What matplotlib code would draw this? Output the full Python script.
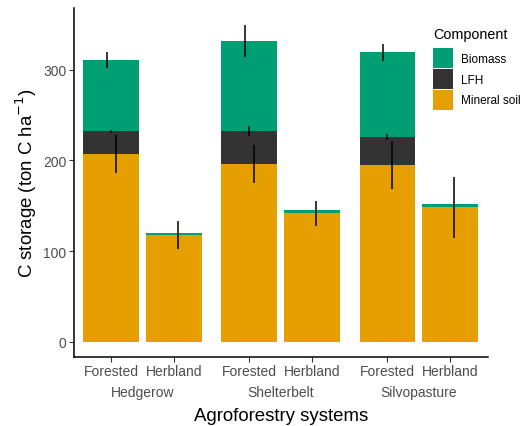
import matplotlib.pyplot as plt
import numpy as np

plt.rcParams['font.family'] = ['Liberation Sans', 'DejaVu Sans']

# systems and land uses, in plotting order
systems = ["Hedgerow", "Shelterbelt", "Silvopasture"]
land_uses = ["Forested", "Herbland"]

# stacked components per bar (Hedgerow F, Hedgerow H, Shelterbelt F, ...)
mineral = [207, 117.6, 196, 141.6, 194.8, 148.5]
lfh = [25, 0, 36.6, 0, 31, 0]
biomass = [78.6, 2.4, 99, 3.6, 93.3, 3.0]

# error bar half-widths
mineral_err = [21, 15, 21, 13.8, 26.6, 33.6]
lfh_err = [2, 0, 5.5, 0, 3, 0]
biomass_err = [9, 0, 18, 0, 9, 0]

colors = {"Biomass": "#009E73", "LFH": "#333333", "Mineral soil": "#E69F00"}

# x layout: groups 2.2 apart, bars +-0.5 around group centre
group_x = np.arange(len(systems)) * 2.2
x = np.array([g + d for g in group_x for d in (-0.5, 0.5)])
width = 0.89

fig = plt.figure(figsize=(5.22, 4.27), dpi=100)
ax = fig.add_axes([0.1418, 0.1623, 0.7931, 0.8166])

mineral = np.array(mineral)
lfh = np.array(lfh)
biomass = np.array(biomass)

ax.bar(x, mineral, width, color=colors["Mineral soil"], label="Mineral soil", zorder=2)
ax.bar(x, lfh, width, bottom=mineral, color=colors["LFH"], label="LFH", zorder=2)
ax.bar(x, biomass, width, bottom=mineral + lfh, color=colors["Biomass"], label="Biomass", zorder=2)

# error bars, slightly dodged within each bar like the original
off = 0.068
ax.errorbar(x + off, mineral, yerr=mineral_err, fmt='none', ecolor='black', elinewidth=1.1, capsize=0, zorder=3)
ax.errorbar(x, mineral + lfh, yerr=lfh_err, fmt='none', ecolor='black', elinewidth=1.1, capsize=0, zorder=3)
ax.errorbar(x - off, mineral + lfh + biomass, yerr=biomass_err, fmt='none', ecolor='black', elinewidth=1.1, capsize=0, zorder=3)

ax.set_xlim(-1.095, 5.503)
ax.set_ylim(-16.5, 368)
ax.set_yticks([0, 100, 200, 300])
ax.set_xticks(x)
ax.set_xticklabels(land_uses * len(systems))

for s in ["top", "right"]:
    ax.spines[s].set_visible(False)
for s in ["left", "bottom"]:
    ax.spines[s].set_linewidth(1.1)
    ax.spines[s].set_color("black")

ax.tick_params(axis='both', length=3.5, width=0.8, color="#333333",
               labelsize=10, labelcolor="#4D4D4D", pad=2)

for g, name in zip(group_x, systems):
    ax.annotate(name, xy=(g, 0), xycoords=('data', 'axes fraction'),
                xytext=(0, -25.5), textcoords='offset points',
                ha='center', va='center', fontsize=10, color="#4D4D4D")

ax.set_xlabel("Agroforestry systems", fontsize=13.4)
ax.xaxis.set_label_coords(0.5, -0.170)
ax.xaxis.label.set_va('center')
ax.set_ylabel("C storage (ton C ha$^{-1}$)", fontsize=13.4, labelpad=3)

handles, labels = ax.get_legend_handles_labels()
order = [2, 1, 0]
fig.text(433 / 522, 1 - 35 / 427, "Component", fontsize=10.4, va='center', ha='left')
leg = fig.legend([handles[i] for i in order], [labels[i] for i in order],
                 loc='upper left',
                 bbox_to_anchor=(433 / 522, 1 - 49 / 427),
                 frameon=False, fontsize=8.5,
                 handlelength=1.69, handleheight=2.23, labelspacing=0.07,
                 handletextpad=0.68, borderpad=0, borderaxespad=0)

fig.savefig("out.png", dpi=100)
